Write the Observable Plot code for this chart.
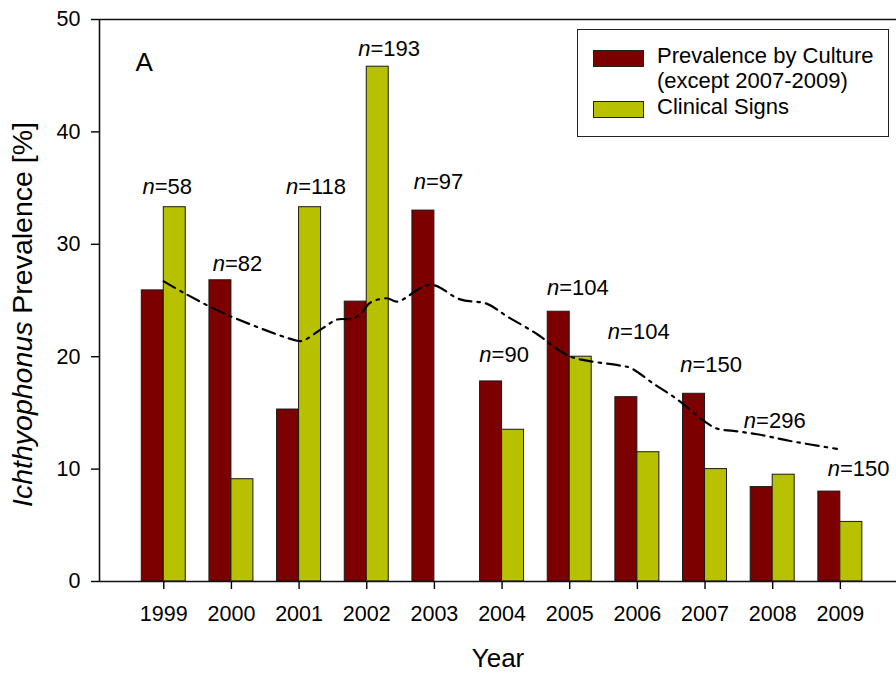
<!DOCTYPE html>
<html>
<head>
<meta charset="utf-8">
<script src="https://cdn.jsdelivr.net/npm/d3@7"></script>
<script src="https://cdn.jsdelivr.net/npm/@observablehq/plot@0.6"></script>
<style>
  body { margin: 0; background: #fff; font-family: "Liberation Sans", Arial, sans-serif; }
  #wrap { position: relative; width: 896px; height: 675px; }
  #legend { position: absolute; left: 577px; top: 29px; width: 312px; height: 108px;
            border: 1.6px solid #222; box-sizing: border-box; background: #fff; color: #000; }
  .sw { position: absolute; left: 15px; width: 51px; height: 17px; border: 1.3px solid #222; box-sizing: border-box; }
  .lt { position: absolute; left: 79px; font-size: 22px; line-height: 25px; white-space: nowrap; }
</style>
</head>
<body>
<div id="wrap">
  <div id="chart"></div>
  <div id="legend"></div>
</div>
<script>
// ---- data ----
const years = [1999, 2000, 2001, 2002, 2003, 2004, 2005, 2006, 2007, 2008, 2009];
const culture = [25.9, 26.8, 15.3, 24.9, 33.0, 17.8, 24.0, 16.4, 16.7, 8.4, 8.0];
const clinical = [33.3, 9.1, 33.3, 45.8, null, 13.5, 20.0, 11.5, 10.0, 9.5, 5.3];
const sampleN = [58, 82, 118, 193, 97, 90, 104, 104, 150, 296, 150];
const nLabelX = [1999.05, 2000.09, 2001.25, 2002.33, 2003.06, 2004.03, 2005.12, 2006.02, 2007.09, 2008.03, 2009.27];
const nLabelY = [34.5, 27.6, 34.5, 46.8, 34.9, 19.5, 25.5, 21.6, 18.6, 13.7, 9.4];
const trendYear = [1999.0, 1999.29, 1999.91, 2000.92, 2001.04, 2001.34, 2001.56, 2001.80, 2001.95, 2002.05, 2002.30, 2002.45, 2002.94, 2003.38, 2003.78, 2004.07, 2004.52, 2004.86, 2005.06, 2005.75, 2005.90, 2006.24, 2006.59, 2006.98, 2007.18, 2007.42, 2007.77, 2008.26, 2008.95];
const trendValue = [26.7, 25.7, 23.8, 21.5, 21.4, 22.5, 23.3, 23.4, 24.1, 24.8, 25.2, 24.9, 26.4, 25.1, 24.7, 23.6, 22.0, 20.5, 19.9, 19.2, 19.0, 17.6, 16.2, 14.3, 13.6, 13.4, 13.1, 12.5, 11.8];
const yTicks = [0, 10, 20, 30, 40, 50];
const seriesNames = ["Prevalence by Culture\n(except 2007-2009)", "Clinical Signs"];
const panelLabel = "A";
const xTitle = "Year";
const yTitle = "Ichthyophonus Prevalence [%]";

// ---- styling ----
const cultureColor = "#7D0000";
const clinicalColor = "#B8C100";
const barW = 0.325;               // bar width in years
const xDomain = [1998.05, 2009.83];
const font = "'Liberation Sans', Arial, sans-serif";

const bars = [];
years.forEach((y, i) => {
  bars.push({year: y, series: 0, value: culture[i]});
  if (clinical[i] != null) bars.push({year: y, series: 1, value: clinical[i]});
});
const trend = trendYear.map((y, i) => ({year: y, value: trendValue[i]}));
const labels = years.map((y, i) => ({x: nLabelX[i], y: nLabelY[i], text: "n=" + sampleN[i]}));

const chart = Plot.plot({
  width: 896,
  height: 675,
  marginLeft: 99,
  marginRight: 0,
  marginTop: 19,
  marginBottom: 94,
  style: {fontFamily: font, color: "#000", background: "#fff", overflow: "visible"},
  x: {domain: xDomain},
  y: {domain: [0, 50]},
  marks: [
    Plot.rectY(bars, {
      x1: d => d.series === 0 ? d.year - barW : d.year,
      x2: d => d.series === 0 ? d.year : d.year + barW,
      y1: 0, y2: "value",
      fill: d => d.series === 0 ? cultureColor : clinicalColor,
      stroke: "#1a1a1a", strokeWidth: 1
    }),
    Plot.line(trend, {x: "year", y: "value", stroke: "#000", strokeWidth: 2.2,
      strokeDasharray: "13,6,2.5,6", curve: "catmull-rom"}),
    Plot.text(labels, {x: "x", y: "y", text: "text", fontSize: 22, dy: -7, className: "nlabel"}),
    Plot.ruleY([0, 50], {stroke: "#111", strokeWidth: 1.6}),
    Plot.ruleX([xDomain[0]], {stroke: "#111", strokeWidth: 1.6}),
    Plot.axisY({ticks: yTicks, tickSize: 8, tickPadding: 11, fontSize: 21.5, label: null, strokeWidth: 1.4}),
    Plot.axisX({ticks: years, tickFormat: d => String(d), tickSize: 8, tickPadding: 16, fontSize: 21.5, label: null, strokeWidth: 1.4}),
    Plot.text([panelLabel], {frameAnchor: "top-left", text: d => d, textAnchor: "start", lineAnchor: "top", fontSize: 26, dx: 36, dy: 33}),
    Plot.text([xTitle], {frameAnchor: "bottom", text: d => d, fontSize: 26, dy: 85}),
    Plot.text([yTitle], {frameAnchor: "left", text: d => d, textAnchor: "middle", lineAnchor: "middle", fontSize: 28.5, rotate: -90, dx: -77, dy: 14, className: "ytitle"})
  ]
});
document.getElementById("chart").appendChild(chart);

// italic "n" in sample-size labels
d3.select(chart).selectAll(".nlabel text").each(function () {
  const t = this.textContent;
  const s = d3.select(this);
  s.text(null);
  s.append("tspan").attr("font-style", "italic").text(t.slice(0, 1));
  s.append("tspan").text(t.slice(1));
});
// italic genus name in y title
d3.select(chart).selectAll(".ytitle text").each(function () {
  const t = this.textContent;
  const k = t.indexOf(" ");
  const s = d3.select(this);
  s.text(null);
  s.append("tspan").attr("font-style", "italic").text(t.slice(0, k));
  s.append("tspan").text(t.slice(k));
});

// legend
const legend = document.getElementById("legend");
const swTops = [20, 71];
const txtTops = [13, 64];
[cultureColor, clinicalColor].forEach((c, i) => {
  const sw = document.createElement("div");
  sw.className = "sw"; sw.style.top = swTops[i] + "px"; sw.style.background = c;
  legend.appendChild(sw);
  const lt = document.createElement("div");
  lt.className = "lt"; lt.style.top = txtTops[i] + "px";
  lt.innerHTML = seriesNames[i].split("\n").join("<br>");
  legend.appendChild(lt);
});
</script>
</body>
</html>
